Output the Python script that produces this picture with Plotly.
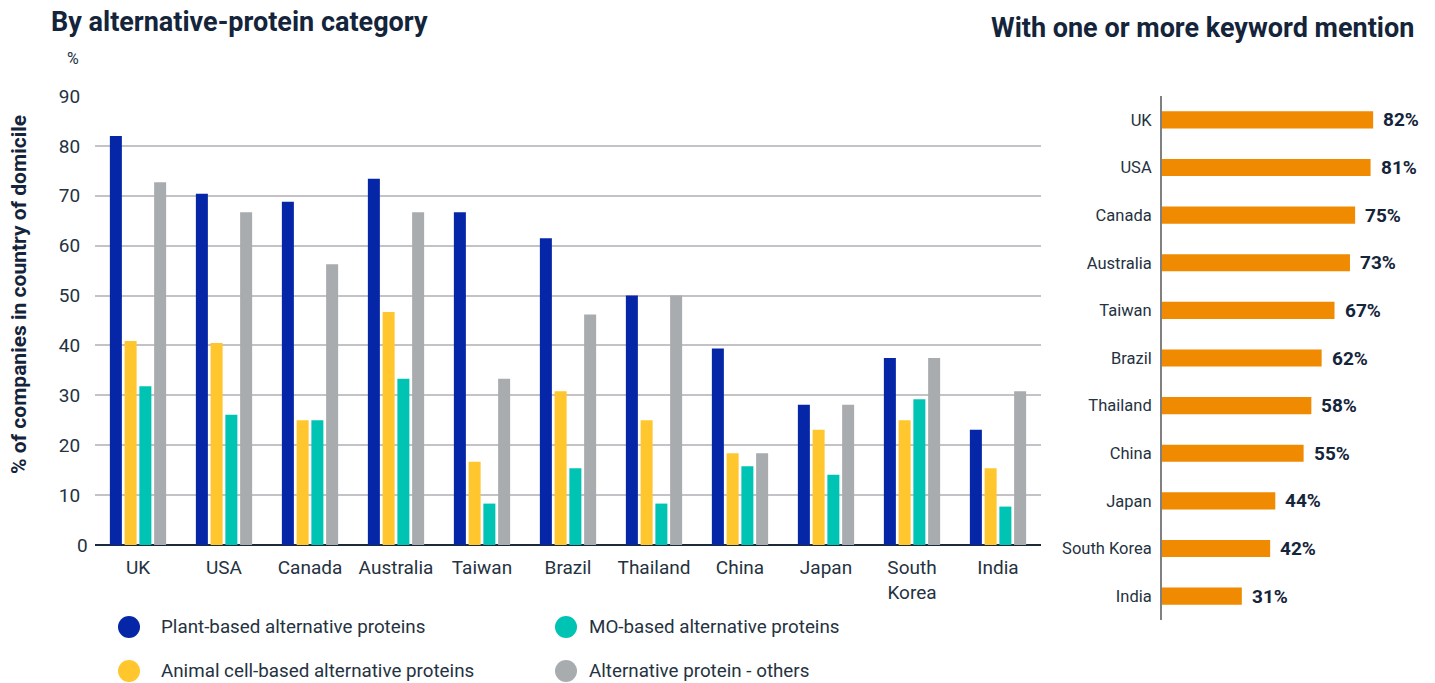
import plotly.graph_objects as go

# Share of companies by alternative-protein category (%)
countries = ["UK", "USA", "Canada", "Australia", "Taiwan", "Brazil",
             "Thailand", "China", "Japan", "South Korea", "India"]
country_ticks = ["UK", "USA", "Canada", "Australia", "Taiwan", "Brazil",
                 "Thailand", "China", "Japan", "South<br>Korea", "India"]

plant_based = [82.0, 70.4, 68.8, 73.4, 66.7, 61.5, 50.0, 39.4, 28.1, 37.5, 23.1]
animal_cell = [40.9, 40.5, 25.0, 46.7, 16.7, 30.8, 25.0, 18.4, 23.1, 25.0, 15.4]
mo_based = [31.8, 26.1, 25.0, 33.3, 8.3, 15.4, 8.3, 15.8, 14.1, 29.2, 7.7]
others = [72.7, 66.7, 56.3, 66.7, 33.3, 46.2, 50.0, 18.4, 28.1, 37.5, 30.8]

# Share with one or more keyword mention (%)
keyword_mention = [82, 81, 75, 73, 67, 62, 58, 55, 44, 42, 31]

y_ticks = list(range(0, 91, 10))
y_ticktext = ["" if v == 0 else str(v) for v in y_ticks]

series_names = ["Plant-based alternative proteins", "Animal cell-based alternative proteins",
                "MO-based alternative proteins", "Alternative protein - others"]
series_values = [plant_based, animal_cell, mo_based, others]
series_colors = ["#0626a8", "#ffc62e", "#00c4b3", "#a9acaf"]
mention_color = "#f08a00"

W, H = 1435, 683
FONT = "Roboto"
DARK = "#14243a"
TICK = "#253241"


def px_x(x):
    return x / W


def px_y(y):
    return 1 - y / H


fig = go.Figure()

for name, vals, col in zip(series_names, series_values, series_colors):
    fig.add_trace(go.Bar(
        x=countries, y=vals, name=name, marker=dict(color=col, line=dict(width=0)),
        xaxis="x", yaxis="y", showlegend=False,
    ))

fig.add_trace(go.Bar(
    x=keyword_mention, y=countries, orientation="h", width=0.36,
    marker=dict(color=mention_color, line=dict(width=0)),
    xaxis="x2", yaxis="y2", showlegend=False,
))

annotations = []
# value labels next to the horizontal bars
for c, v in zip(countries, keyword_mention):
    annotations.append(dict(
        x=v, y=c, xref="x2", yref="y2", text=f"<b>{v}%</b>", showarrow=False,
        xanchor="left", yanchor="middle", xshift=8,
        font=dict(family=FONT, size=19, color=DARK),
    ))

annotations += [
    # zero label sits a little closer to the axis than the others
    dict(x=px_x(90), y=0, xref="paper", yref="y", text="0", showarrow=False,
         xanchor="right", yanchor="middle", font=dict(family=FONT, size=19, color=TICK)),
    dict(x=px_x(49), y=px_y(22), xref="paper", yref="paper",
         text="<b>By alternative-protein category</b>", showarrow=False,
         xanchor="left", yanchor="middle", font=dict(family=FONT, size=27, color=DARK)),
    dict(x=px_x(1416), y=px_y(28), xref="paper", yref="paper",
         text="<b>With one or more keyword mention</b>", showarrow=False,
         xanchor="right", yanchor="middle", font=dict(family=FONT, size=27, color=DARK)),
    dict(x=px_x(73), y=px_y(58), xref="paper", yref="paper", text="%", showarrow=False,
         xanchor="center", yanchor="middle", font=dict(family=FONT, size=16, color=TICK)),
    dict(x=px_x(19), y=px_y(295), xref="paper", yref="paper",
         text="<b>% of companies in country of domicile</b>", showarrow=False, textangle=-90,
         xanchor="center", yanchor="middle", font=dict(family=FONT, size=21, color=DARK)),
]

# legend drawn as circles with labels, two columns
legend_order = [0, 2, 1, 3]
legend_pos = [(129, 159, 627), (566, 587, 627), (129, 159, 671), (566, 587, 671)]
shapes = []
for idx, (cx, tx, cy) in zip(legend_order, legend_pos):
    shapes.append(dict(
        type="circle", xref="paper", yref="paper", xsizemode="pixel", ysizemode="pixel",
        xanchor=px_x(cx), yanchor=px_y(cy), x0=-11, x1=11, y0=-11, y1=11,
        fillcolor=series_colors[idx], line=dict(width=0),
    ))
    annotations.append(dict(
        x=px_x(tx), y=px_y(cy), xref="paper", yref="paper", text=series_names[idx],
        showarrow=False, xanchor="left", yanchor="middle",
        font=dict(family=FONT, size=18.8, color=TICK),
    ))

fig.update_layout(
    width=W, height=H,
    margin=dict(l=0, r=0, t=0, b=0, autoexpand=False),
    paper_bgcolor="white", plot_bgcolor="white",
    barmode="group", bargap=0.314, bargroupgap=0.186,
    font=dict(family=FONT, color=TICK),
    xaxis=dict(
        domain=[px_x(95), px_x(1041)], anchor="y",
        tickmode="array", tickvals=countries, ticktext=country_ticks,
        tickfont=dict(size=19, color=TICK), ticks="outside", ticklen=5,
        tickcolor="rgba(0,0,0,0)", showgrid=False, showline=False, fixedrange=True,
        automargin=False,
    ),
    yaxis=dict(
        domain=[px_y(545), px_y(96)], anchor="x", range=[0, 90],
        tickmode="array", tickvals=y_ticks, ticktext=y_ticktext,
        tickfont=dict(size=19, color=TICK),
        ticks="outside", ticklen=10, tickcolor="rgba(0,0,0,0)",
        showgrid=True, gridcolor="#c3c3c7", gridwidth=2,
        zeroline=True, zerolinecolor="#1c2b3a", zerolinewidth=2,
        showline=False, fixedrange=True, automargin=False,
    ),
    xaxis2=dict(
        domain=[px_x(1162), px_x(1419.5)], anchor="y2", range=[0, 100],
        visible=False, fixedrange=True, automargin=False,
    ),
    yaxis2=dict(
        domain=[px_y(620), px_y(96)], anchor="x2", autorange="reversed",
        tickfont=dict(size=16.5, color=TICK), ticks="outside", ticklen=5,
        tickcolor="rgba(0,0,0,0)", showline=True, linecolor="#808080", linewidth=2,
        showgrid=False, fixedrange=True, automargin=False,
    ),
    annotations=annotations,
    shapes=shapes,
)

fig.write_html(
    "out.html",
    post_script="document.body.style.margin='0';document.body.style.overflow='hidden';",
)
